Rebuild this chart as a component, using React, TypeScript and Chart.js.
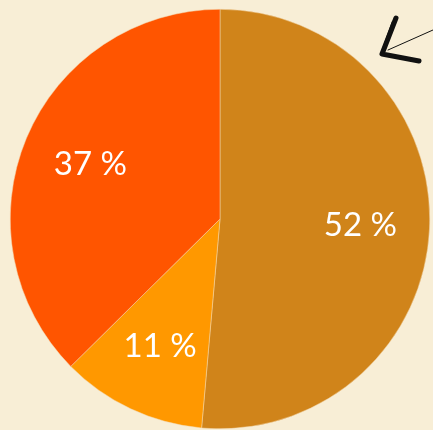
import React, { useEffect, useRef } from "react";
import { Chart, registerables } from "chart.js";

Chart.register(...registerables);

const categories = ["A", "B", "C"];
const values = [51.4, 11.2, 37.4];
const labels = ["52 %", "11 %", "37 %"];
const colors = ["#D0841A", "#FF9800", "#FF5500"];
const BG = "#F8EED6";

const labelPlugin = {
  id: "pctLabels",
  afterDatasetsDraw(chart: any) {
    const { ctx } = chart;
    const meta = chart.getDatasetMeta(0);
    ctx.save();
    ctx.fillStyle = "#FFFFFF";
    ctx.font = "400 33px Lato";
    ctx.textAlign = "center";
    ctx.textBaseline = "middle";
    meta.data.forEach((arc: any, i: number) => {
      const p = arc.getProps(["x", "y", "startAngle", "endAngle", "outerRadius"], true);
      const a = (p.startAngle + p.endAngle) / 2;
      const d = p.outerRadius * 0.67;
      ctx.fillText(labels[i], p.x + Math.cos(a) * d, p.y + Math.sin(a) * d);
    });
    ctx.restore();
  },
};

const scribblePlugin = {
  id: "scribble",
  afterDraw(chart: any) {
    const { ctx, width } = chart;
    ctx.save();
    ctx.strokeStyle = "#111";
    ctx.lineCap = "round";
    ctx.lineJoin = "round";
    ctx.lineWidth = 5;
    ctx.beginPath();
    ctx.moveTo(width - 37, 18);
    ctx.lineTo(width - 51, 54);
    ctx.lineTo(width - 14, 61);
    ctx.stroke();
    ctx.lineWidth = 2.5;
    ctx.beginPath();
    ctx.moveTo(width - 40, 22);
    ctx.lineTo(width - 50, 50);
    ctx.stroke();
    ctx.lineWidth = 1;
    ctx.beginPath();
    ctx.moveTo(width - 45, 50);
    ctx.lineTo(width, 30);
    ctx.stroke();
    ctx.restore();
  },
};

export default function App() {
  const ref = useRef<HTMLCanvasElement>(null);
  useEffect(() => {
    if (!ref.current) return;
    const chart = new Chart(ref.current, {
      type: "pie",
      data: {
        labels: categories,
        datasets: [
          {
            data: values,
            backgroundColor: colors,
            borderWidth: 0.5,
            borderColor: "#F3D9B0",
          },
        ],
      },
      options: {
        responsive: false,
        animation: false,
        layout: { padding: { left: 10, top: 9, right: 3, bottom: 1 } },
        plugins: {
          legend: { display: false },
          tooltip: { enabled: false },
        },
      },
      plugins: [labelPlugin, scribblePlugin],
    });
    return () => chart.destroy();
  }, []);
  return (
    <div style={{ position: "absolute", left: 0, top: 0, width: 433, height: 430, background: BG }}>
      <canvas ref={ref} width={433} height={430} style={{ display: "block" }} />
    </div>
  );
}
